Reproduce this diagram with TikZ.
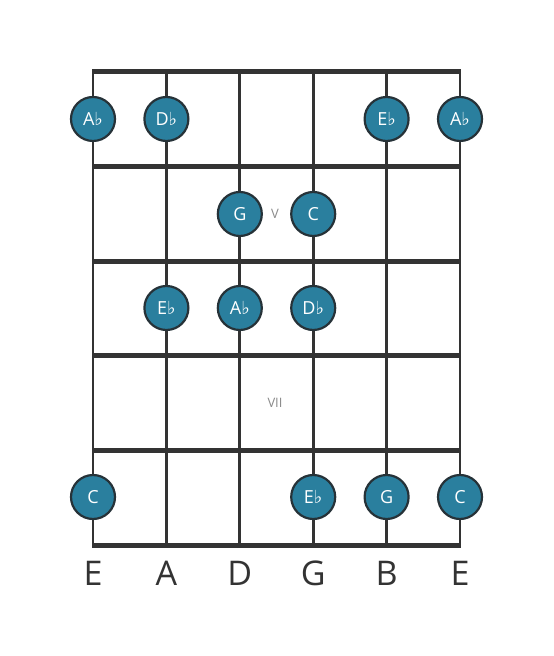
\documentclass[tikz,border=0pt]{standalone}
\usepackage{fontspec}
\setmainfont{Open Sans}
\newfontfamily\flatfont{DejaVu Sans}
\definecolor{fretgray}{HTML}{333333}
\definecolor{dotblue}{HTML}{2A7F9E}
\definecolor{dotrim}{HTML}{263238}
\definecolor{posgray}{HTML}{8A8A8A}
\newcommand{\fl}{{\flatfont\char"266D}}
\tikzset{
  note/.style={circle, fill=dotblue, draw=dotrim, line width=1.1pt,
    minimum size=22pt, inner sep=0pt, text=white, font=\fontsize{9}{10}\selectfont},
  fretline/.style={fretgray, line width=2.5pt},
  stringline/.style={fretgray, line width=1.4pt},
  stringname/.style={fretgray, font=\fontsize{17}{20}\selectfont},
  position/.style={posgray, font=\fontsize{6.5}{8}\selectfont}
}
\begin{document}
\begin{tikzpicture}[x=0.5pt, y=-0.5pt]
  \useasboundingbox (0,0) rectangle (553,656);
  %strings
  \foreach \s in {0,...,5}
    \draw[stringline] (93+73.4*\s,72) -- (93+73.4*\s,545);
  %frets
  \foreach \f in {0,...,5}
    \draw[fretline] (92,72+94.6*\f) -- (461,72+94.6*\f);
  %string names
  \node[stringname] (nE1) at (93,573) {E};
  \node[stringname] (nA) at (166.4,573) {A};
  \node[stringname] (nD) at (239.8,573) {D};
  \node[stringname] (nG) at (313.2,573) {G};
  \node[stringname] (nB) at (386.6,573) {B};
  \node[stringname] (nE2) at (460,573) {E};
  %fret positions
  \node[position] (pV) at (275,214) {V};
  \node[position] (pVII) at (275,403) {VII};
  %first fret
  \node[note] (a1) at (93,119) {A\fl};
  \node[note] (b1) at (166.4,119) {D\fl};
  \node[note] (c1) at (386.6,119) {E\fl};
  \node[note] (d1) at (460,119) {A\fl};
  %second fret
  \node[note] (a2) at (239.8,214) {G};
  \node[note] (b2) at (313.2,214) {C};
  %third fret
  \node[note] (a3) at (166.4,308) {E\fl};
  \node[note] (b3) at (239.8,308) {A\fl};
  \node[note] (c3) at (313.2,308) {D\fl};
  %fifth fret
  \node[note] (a5) at (93,497) {C};
  \node[note] (b5) at (313.2,497) {E\fl};
  \node[note] (c5) at (386.6,497) {G};
  \node[note] (d5) at (460,497) {C};
\end{tikzpicture}
\end{document}
